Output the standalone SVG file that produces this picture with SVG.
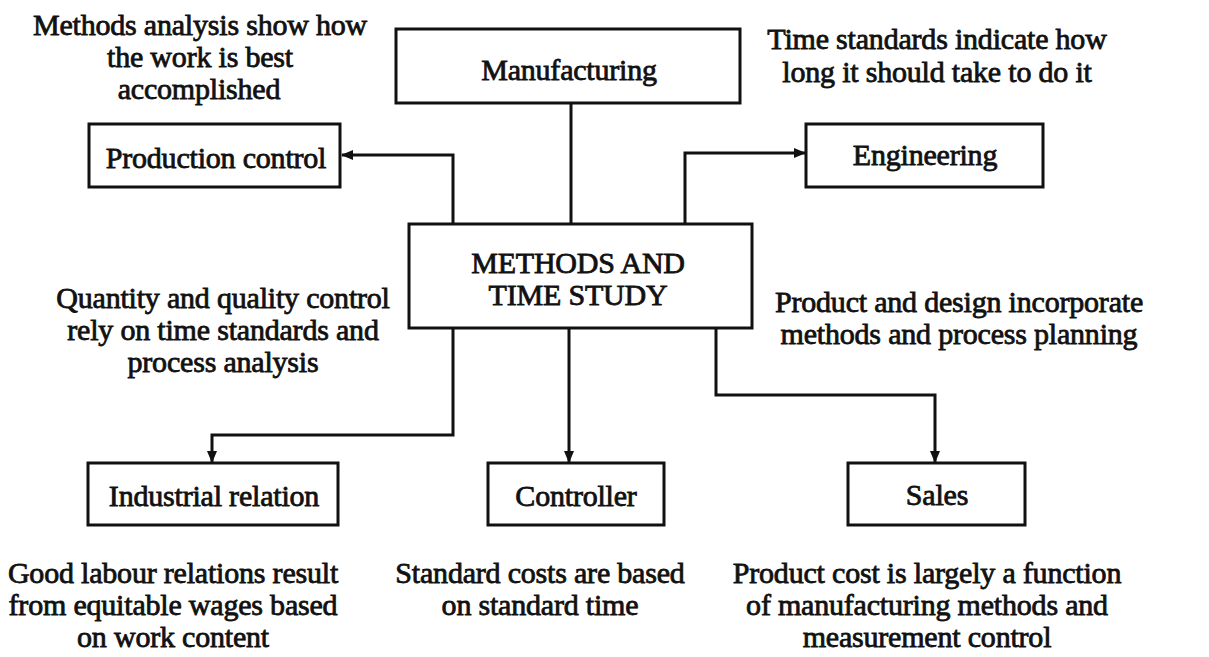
<svg xmlns="http://www.w3.org/2000/svg" width="1209" height="657" viewBox="0 0 1209 657">
<defs>
<style>
.box{fill:#fff;stroke:#111;stroke-width:3}
.t{font-family:"Liberation Serif","Times New Roman",serif;font-size:30px;fill:#111;stroke:#111;stroke-width:0.8;text-anchor:middle;letter-spacing:-0.2px}
.c{fill:none;stroke:#111;stroke-width:3}
</style>
<marker id="ah" markerUnits="userSpaceOnUse" markerWidth="12" markerHeight="10" refX="11" refY="5" orient="auto">
<path d="M0,0 L12,5 L0,10 z" fill="#111"/>
</marker>
</defs>
<rect width="1209" height="657" fill="#fff"/>

<g id="connectors">
<path class="c" d="M571,103 V224"/>
<path class="c" d="M453,224 V155 H342" marker-end="url(#ah)"/>
<path class="c" d="M685,224 V153 H805" marker-end="url(#ah)"/>
<path class="c" d="M453,328 V435 H212 V462" marker-end="url(#ah)"/>
<path class="c" d="M569,328 V462" marker-end="url(#ah)"/>
<path class="c" d="M716,328 V395 H935 V462" marker-end="url(#ah)"/>
</g>

<g id="manufacturing">
<rect class="box" x="396" y="29" width="344" height="74"/>
<text class="t" x="569" y="80">Manufacturing</text>
</g>

<g id="production-control">
<rect class="box" x="89" y="124" width="251" height="63"/>
<text class="t" x="216" y="168">Production control</text>
</g>

<g id="engineering">
<rect class="box" x="806" y="124" width="237" height="63"/>
<text class="t" x="925" y="165">Engineering</text>
</g>

<g id="methods">
<rect class="box" x="409" y="224" width="343" height="104"/>
<text class="t" x="578" y="273">METHODS AND</text>
<text class="t" x="578" y="305">TIME STUDY</text>
</g>

<g id="industrial-relation">
<rect class="box" x="88" y="463" width="250" height="62"/>
<text class="t" x="214" y="506">Industrial relation</text>
</g>

<g id="controller">
<rect class="box" x="488" y="463" width="176" height="62"/>
<text class="t" x="576" y="506">Controller</text>
</g>

<g id="sales">
<rect class="box" x="848" y="463" width="177" height="62"/>
<text class="t" x="937" y="505">Sales</text>
</g>

<g id="annotations">
<text class="t" x="200" y="35">Methods analysis show how</text>
<text class="t" x="200" y="67">the work is best</text>
<text class="t" x="199" y="99">accomplished</text>

<text class="t" x="937" y="49">Time standards indicate how</text>
<text class="t" x="937" y="82">long it should take to do it</text>

<text class="t" x="223" y="308">Quantity and quality control</text>
<text class="t" x="223" y="340">rely on time standards and</text>
<text class="t" x="223" y="372">process analysis</text>

<text class="t" x="959" y="312">Product and design incorporate</text>
<text class="t" x="959" y="344">methods and process planning</text>

<text class="t" x="173" y="583">Good labour relations result</text>
<text class="t" x="173" y="615">from equitable wages based</text>
<text class="t" x="173" y="647">on work content</text>

<text class="t" x="540" y="583">Standard costs are based</text>
<text class="t" x="540" y="615">on standard time</text>

<text class="t" x="927" y="583">Product cost is largely a function</text>
<text class="t" x="927" y="615">of manufacturing methods and</text>
<text class="t" x="927" y="647">measurement control</text>
</g>
</svg>
